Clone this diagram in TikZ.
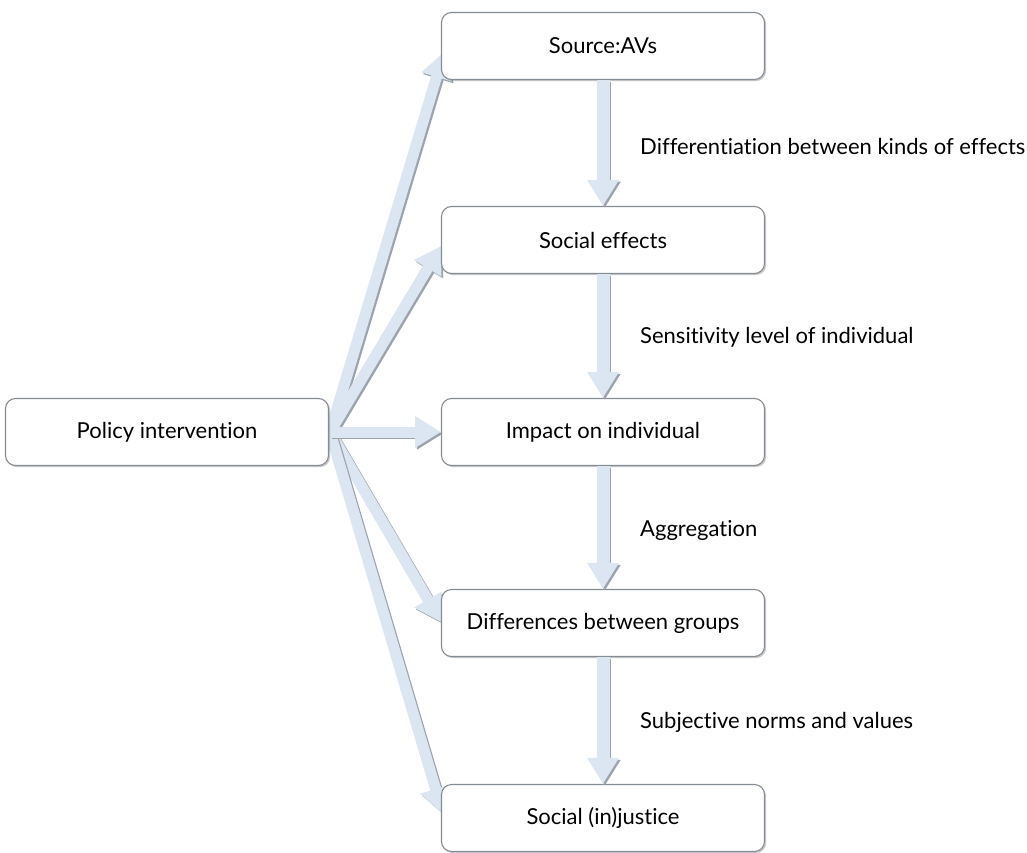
\documentclass[tikz,border=0pt]{standalone}
\usepackage{fontspec}
\setmainfont[Ligatures={NoCommon}]{Lato}
\usetikzlibrary{arrows.meta,shadows,calc}
\definecolor{arrowblue}{HTML}{DCE6F2}
\definecolor{arrowshade}{HTML}{9AA3AE}
\definecolor{boxline}{HTML}{868C96}
\tikzset{
  stepbox/.style={draw=boxline, line width=1.1pt, fill=white, rounded corners=10pt,
    minimum width=323pt, minimum height=67pt, font=\fontsize{22}{26}\selectfont,
    drop shadow={shadow xshift=1.6pt, shadow yshift=-1.6pt, opacity=0.35, fill=black!60}},
  steplabel/.style={anchor=west, font=\fontsize{22}{26}\selectfont, inner sep=0pt},
  fatarrow/.style={line width=#1, -{Triangle[width=30pt,length=26pt]}},
  fatarrow/.default=13pt,
}
% draws a broad arrow with a grey shade behind it
\newcommand{\fatlink}[3][13pt]{%
  \draw[fatarrow=#1, draw=arrowshade, fill=arrowshade, transform canvas={xshift=1.8pt,yshift=-1.8pt}] #2 -- #3;
  \draw[fatarrow=#1, draw=arrowblue, fill=arrowblue] #2 -- #3;
}
\begin{document}
\begin{tikzpicture}[x=1pt, y=-1pt]
\useasboundingbox (0,0) rectangle (1027,853);

% fan of arrows from the policy box
\coordinate (fanstart) at (330,432);
\coordinate (t1) at (444,52);
\coordinate (t2) at (441,246);
\coordinate (t3) at (441,432);
\coordinate (t4) at (441,622);
\coordinate (t5) at (443,814);
\foreach \t in {t1,t2,t4,t5}{\fatlink[11pt]{(fanstart)}{(\t)}}
\fatlink[11pt]{(fanstart)}{(t3)}

% boxes
\node[stepbox] (pol) at (167,432) {Policy intervention};
\node[stepbox] (src) at (603,46) {Source:AVs};
\node[stepbox] (eff) at (603,240) {Social effects};
\node[stepbox] (imp) at (603,432) {Impact on individual};
\node[stepbox] (dif) at (603,623) {Differences between groups};
\node[stepbox] (jus) at (603,818) {Social (in)justice};

% chain of vertical arrows
\fatlink{(src.south)}{(eff.north)}
\fatlink{(eff.south)}{(imp.north)}
\fatlink{(imp.south)}{(dif.north)}
\fatlink{(dif.south)}{(jus.north)}

% labels of the chain
\node[steplabel] (l1) at (640,146) {Differentiation between kinds of effects};
\node[steplabel] (l2) at (640,337) {Sensitivity level of individual};
\node[steplabel] (l3) at (640,530) {Aggregation};
\node[steplabel] (l4) at (640,722) {Subjective norms and values};
\end{tikzpicture}
\end{document}
